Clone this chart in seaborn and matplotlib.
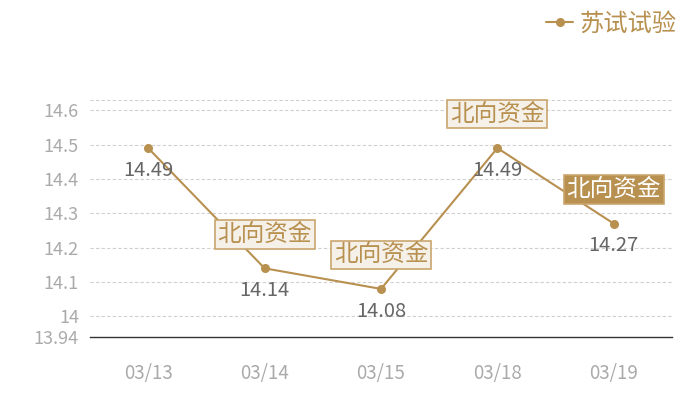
import matplotlib
matplotlib.use("Agg")
import matplotlib.pyplot as plt
import seaborn as sns
import pandas as pd

dates = ["03/13", "03/14", "03/15", "03/18", "03/19"]
values = [14.49, 14.14, 14.08, 14.49, 14.27]
series_name = "苏试试验"
ann_label = "北向资金"
ann_dates = ["03/14", "03/15", "03/18", "03/19"]
yticks = [13.94, 14.0, 14.1, 14.2, 14.3, 14.4, 14.5, 14.6]
ytick_labels = ["13.94", "14", "14.1", "14.2", "14.3", "14.4", "14.5", "14.6"]
ymin, ymax = 13.94, 14.63

sns.set_theme(style="white")
plt.rcParams['font.family'] = ['Noto Sans CJK SC', 'DejaVu Sans']

GOLD = "#b8904f"
GRAY = "#aaaaaa"

df = pd.DataFrame({"date": dates, "value": values, "x": range(len(dates))})

fig = plt.figure(figsize=(7, 4), dpi=100)
ax = fig.add_axes([90/700, 1-337/400, (672-90)/700, (337-100)/400])

sns.lineplot(data=df, x="x", y="value", ax=ax, color=GOLD, linewidth=1.5,
             marker="o", markersize=6.5, markeredgewidth=0, label=series_name, zorder=3)

ax.set_xlim(-0.5, len(dates) - 0.5)
ax.set_ylim(ymin, ymax)
ax.set_xticks(range(len(dates)))
ax.set_xticklabels(dates, color=GRAY, fontsize=13.5)
ax.set_yticks(yticks)
ax.set_yticklabels(ytick_labels, color=GRAY, fontsize=13)
ax.set_xlabel("")
ax.set_ylabel("")
ax.tick_params(axis="x", length=0, pad=19)
ax.tick_params(axis="y", length=0, pad=8)

for y in yticks[1:]:
    ax.axhline(y, color="#d0d0d0", linewidth=0.8, linestyle=(0, (3, 2)), zorder=0)
ax.axhline(ymax, color="#d0d0d0", linewidth=0.8, linestyle=(0, (3, 2)), zorder=0)

for s in ["top", "right", "left"]:
    ax.spines[s].set_visible(False)
ax.spines["bottom"].set_color("#333333")
ax.spines["bottom"].set_linewidth(1.0)

# value labels
for i, v in enumerate(values):
    ax.annotate(f"{v:.2f}", (i, v), xytext=(0, -16), textcoords="offset points",
                ha="center", va="center", color="#666666", fontsize=14.5, zorder=5)

# annotation boxes
for d in ann_dates:
    i = dates.index(d)
    v = values[i]
    last = (d == ann_dates[-1])
    fc = GOLD if last else "#f5f0e8"
    tc = "white" if last else GOLD
    ax.annotate(ann_label, (i, v), xytext=(0, 24.5), textcoords="offset points",
                ha="center", va="center", color=tc, fontsize=17, zorder=6,
                bbox=dict(boxstyle="square,pad=0.12", fc=fc, ec="#c9a66e", lw=1.2))

leg = ax.legend(loc="upper right", bbox_to_anchor=(686/700, 1 - 1/400),
                bbox_transform=fig.transFigure, frameon=False, fontsize=17.5,
                handlelength=1.1, handletextpad=0.25, borderaxespad=0)
for t in leg.get_texts():
    t.set_color(GOLD)

fig.savefig("out.png", dpi=100)
